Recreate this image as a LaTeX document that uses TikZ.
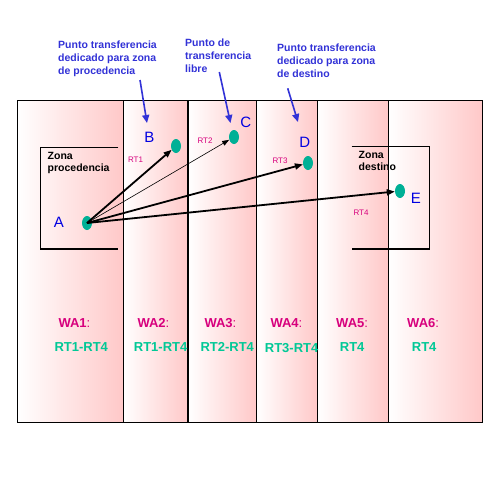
\documentclass[tikz,border=0pt]{standalone}
\usepackage{fontspec}
\setmainfont{Liberation Sans}
\usetikzlibrary{arrows.meta,shapes.geometric}
\definecolor{pinkc}{RGB}{255,200,200}
\definecolor{teal2}{RGB}{0,176,150}
\definecolor{blueT}{RGB}{50,50,215}
\definecolor{blueL}{RGB}{0,0,225}
\definecolor{magc}{RGB}{215,0,125}
\definecolor{greenc}{RGB}{0,200,150}
\begin{document}
\begin{tikzpicture}[x=1pt,y=-1pt,
  col/.style={left color=white,right color=pinkc,shading angle=90},
  pt/.style={ellipse,fill=teal2,minimum width=10pt,minimum height=14pt,inner sep=0},
  lett/.style={text=blueL,font=\fontsize{15}{15}\selectfont,inner sep=0},
  rtl/.style={text=magc,font=\fontsize{8}{8}\selectfont,inner sep=0},
  note/.style={text=blueT,font=\fontsize{10.5}{13}\bfseries\selectfont,align=left,anchor=north west,inner sep=0},
  zona/.style={font=\fontsize{10.5}{12}\bfseries\selectfont,align=left,anchor=north west,inner sep=0},
  wa/.style={text=magc,font=\fontsize{13}{13}\bfseries\selectfont,inner sep=0,anchor=west},
  rtg/.style={text=greenc,font=\fontsize{13}{13}\bfseries\selectfont,inner sep=0,anchor=west},
  arr/.style={-{Triangle[length=8pt,width=6pt]},line width=1.8pt},
  thinarr/.style={-{Triangle[length=7pt,width=5pt]},line width=0.6pt},
  barr/.style={-{Triangle[length=8pt,width=7pt]},line width=1.6pt,draw=blueT},
  ]
\useasboundingbox[fill=white] (0,0) rectangle (499,499);
% columns
\foreach \a/\b in {17.5/123.3,123.3/188,188/256.3,256.3/317.7,317.7/388.3,388.3/482.7}{
  \shade[col] (\a,100) rectangle (\b,422);
}
\draw[line width=0.9pt] (17.5,100) rectangle (482.7,422);
\foreach \x/\w in {123.3/0.9pt,188/1.5pt,256.3/0.9pt,317.7/1.5pt,388.3/0.9pt}{
  \draw[line width=\w] (\x,100) -- (\x,422);
}
% zones
\draw[line width=1.3pt] (118.3,147.3) -- (40.7,147.3) -- (40.7,249) -- (118.3,249);
\draw[line width=1.3pt] (351.7,146.3) -- (429.7,146.3) -- (429.7,249) -- (351.7,249);
\node[zona] (zp) at (47.5,152.5) {Zona\\procedencia};
\node[zona] (zd) at (358.5,151) {Zona\\destino};
% points
\node[pt] (A) at (87,223) {};
\node[pt] (B) at (176,146) {};
\node[pt] (C) at (234,137) {};
\node[pt] (D) at (308,163) {};
\node[pt] (E) at (400,191) {};
\node[lett] (la) at (59,222.5) {A};
\node[lett] (lb) at (149.3,137.7) {B};
\node[lett] (lc) at (245.7,122) {C};
\node[lett] (ld) at (304.7,142.3) {D};
\node[lett] (le) at (416,198.3) {E};
% routes
\draw[arr] (A.center) -- (B);
\draw[thinarr] (A.center) -- (C);
\draw[arr] (A.center) -- (D);
\draw[arr] (A.center) -- (E);
\node[rtl] (rt1) at (135.5,160) {RT1};
\node[rtl] (rt2) at (205,140.5) {RT2};
\node[rtl] (rt3) at (280,160.7) {RT3};
\node[rtl] (rt4) at (361,212.3) {RT4};
% notes
\node[note] (n1) at (58,40.5) {Punto transferencia\\dedicado para zona\\de procedencia};
\node[note] (n2) at (185,38.8) {Punto de\\transferencia\\libre};
\node[note] (n3) at (277,44) {Punto transferencia\\dedicado para zona\\de destino};
\coordinate (s1) at (140,80);
\coordinate (e1) at (147,123);
\coordinate (s2) at (219.3,72);
\coordinate (e2) at (230.5,123);
\coordinate (s3) at (287.7,88.3);
\coordinate (e3) at (298,122);
\draw[barr] (s1) -- (e1);
\draw[barr] (s2) -- (e2);
\draw[barr] (s3) -- (e3);
% WA labels
\node[wa] (wa1) at (58.3,323.3) {WA1\textmd{:}};
\node[wa] (wa2) at (137.3,323.3) {WA2\textmd{:}};
\node[wa] (wa3) at (204.3,323.3) {WA3\textmd{:}};
\node[wa] (wa4) at (270.3,323.3) {WA4\textmd{:}};
\node[wa] (wa5) at (336,323.3) {WA5\textmd{:}};
\node[wa] (wa6) at (407,323.3) {WA6\textmd{:}};
\node[rtg] (r1) at (54.3,346.7) {RT1-RT4};
\node[rtg] (r2) at (133.7,346.7) {RT1-RT4};
\node[rtg] (r3) at (200.3,346.7) {RT2-RT4};
\node[rtg] (r4) at (264.7,347.7) {RT3-RT4};
\node[rtg] (r5) at (339.7,346.7) {RT4};
\node[rtg] (r6) at (411.7,346.7) {RT4};
\end{tikzpicture}
\end{document}
